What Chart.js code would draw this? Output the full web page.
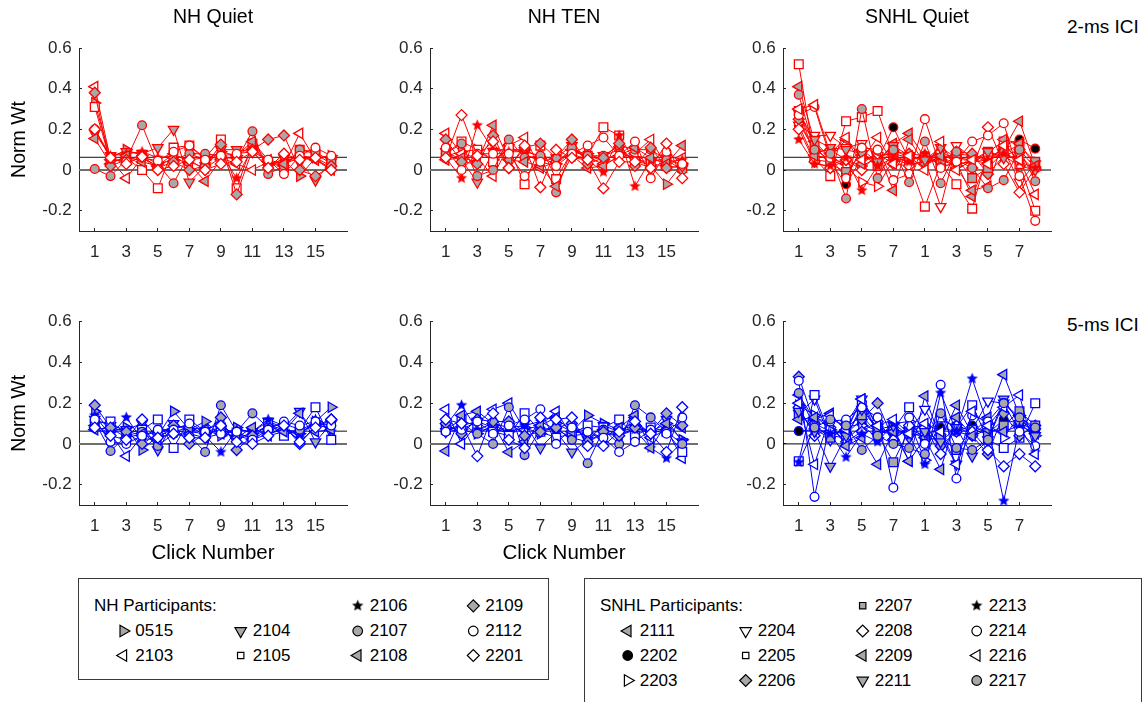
<!DOCTYPE html>
<html>
<head>
<meta charset="utf-8">
<script src="https://cdn.jsdelivr.net/npm/chart.js@4/dist/chart.umd.min.js"></script>
<style>
  body { margin: 0; background: #fff; width: 1145px; height: 702px; position: relative; overflow: hidden;
         font-family: "Liberation Sans", Arial, sans-serif; }
  canvas.panel { position: absolute; }
  .rowlab { position: absolute; font-size: 19px; color: #000; white-space: nowrap; }
  .legbox { position: absolute; border: 1px solid #3a3a3a; background: #fff; box-sizing: border-box; }
  .leg { position: absolute; font-size: 17px; line-height: 20px; color: #000; white-space: nowrap; }
  #legmarks { position: absolute; left: 0; top: 0; pointer-events: none; }
</style>
</head>
<body>
<canvas class="panel" id="p1" width="357" height="275" style="left:0px;top:0px"></canvas>
<canvas class="panel" id="p2" width="357" height="275" style="left:351px;top:0px"></canvas>
<canvas class="panel" id="p3" width="357" height="275" style="left:704px;top:0px"></canvas>
<canvas class="panel" id="p4" width="357" height="300" style="left:0px;top:280px"></canvas>
<canvas class="panel" id="p5" width="357" height="300" style="left:351px;top:280px"></canvas>
<canvas class="panel" id="p6" width="357" height="300" style="left:704px;top:280px"></canvas>
<div class="rowlab" style="left:1067px;top:16px">2-ms ICI</div>
<div class="rowlab" style="left:1067px;top:314px">5-ms ICI</div>
<div class="legbox" style="left:78px;top:578px;width:471px;height:102px"></div>
<div class="legbox" style="left:584px;top:578px;width:558px;height:140px"></div>
<div id="legtext"></div>
<canvas id="legmarks" width="1145" height="702"></canvas>

<script>
// click positions and axis ticks
const clicks = [1, 2, 3, 4, 5, 6, 7, 8, 9, 10, 11, 12, 13, 14, 15, 16];
const xTicks = [1, 3, 5, 7, 9, 11, 13, 15];
const yTicks = [-0.2, 0, 0.2, 0.4, 0.6];
const refLevels = [0, 0.0625];

// NH participants: id, marker shape, marker fill
const nhIds = ['0515', '2103', '2104', '2105', '2106', '2107', '2108', '2109', '2112', '2201'];
const nhShapes = ['triR', 'triL', 'triD', 'sq', 'star', 'circ', 'triL', 'diam', 'circ', 'diam'];
const nhFills = ['gray', 'open', 'gray', 'open', 'edge', 'gray', 'gray', 'gray', 'open', 'open'];

// SNHL participants
const snhlIds = ['2111', '2202', '2203', '2204', '2205', '2206', '2207', '2208', '2209', '2211', '2213', '2214', '2216', '2217'];
const snhlShapes = ['triL', 'circ', 'triR', 'triD', 'sq', 'diam', 'sq', 'diam', 'triL', 'triD', 'star', 'circ', 'triL', 'circ'];
const snhlFills = ['gray', 'black', 'open', 'open', 'open', 'gray', 'gray', 'open', 'gray', 'gray', 'edge', 'open', 'open', 'gray'];

// normalized weights, one row per participant (same order as ids)
const nhQuiet2ms = [
  [0.33, 0.06, 0.10, 0.07, 0.03, 0.05, 0.08, 0.05, 0.09, 0.07, 0.12, 0.03, 0.05, -0.03, 0.06, 0.07],
  [0.41, 0.05, -0.04, 0.06, 0.02, 0.08, 0.04, 0.01, 0.06, 0.03, 0.00, 0.04, 0.02, 0.18, 0.05, 0.01],
  [0.18, 0.07, 0.09, 0.08, 0.11, 0.20, -0.06, 0.02, 0.10, 0.10, 0.09, 0.01, 0.06, 0.04, -0.05, 0.04],
  [0.31, 0.04, 0.06, 0.00, -0.09, 0.11, 0.12, 0.06, 0.15, -0.09, 0.13, 0.04, 0.01, 0.10, 0.08, 0.03],
  [0.20, 0.07, 0.08, 0.09, 0.06, 0.07, 0.05, 0.06, 0.08, -0.04, 0.11, 0.03, 0.04, 0.07, 0.06, 0.02],
  [0.005, -0.03, 0.05, 0.22, 0.03, -0.065, 0.08, 0.08, 0.07, 0.05, 0.19, -0.02, 0.02, 0.10, 0.09, 0.04],
  [0.155, 0.03, 0.07, 0.04, 0.02, 0.06, 0.03, -0.055, 0.05, 0.07, 0.14, 0.05, 0.03, 0.06, 0.05, 0.00],
  [0.38, 0.02, 0.05, 0.07, 0.01, 0.04, 0.00, 0.02, 0.125, -0.12, 0.10, 0.15, 0.17, 0.00, -0.03, 0.02],
  [0.20, 0.055, 0.04, 0.06, 0.045, 0.09, 0.12, 0.05, 0.07, 0.08, 0.09, 0.05, -0.02, 0.07, 0.11, 0.07],
  [0.20, 0.06, 0.03, 0.065, 0.00, 0.02, 0.05, 0.00, 0.03, 0.04, 0.09, 0.01, 0.08, 0.05, 0.06, 0.00]
];
const nhTen2ms = [
  [0.07, 0.09, 0.10, 0.05, 0.10, 0.10, 0.06, 0.03, 0.09, 0.08, 0.05, 0.08, 0.06, 0.02, -0.07, 0.03],
  [0.18, 0.08, 0.06, -0.03, 0.12, 0.16, 0.01, 0.04, 0.10, 0.06, 0.03, 0.06, 0.08, 0.15, 0.02, 0.06],
  [0.09, 0.05, -0.06, 0.09, 0.11, 0.08, 0.04, 0.06, 0.12, 0.04, 0.07, 0.10, 0.05, 0.04, 0.06, 0.02],
  [0.08, 0.14, 0.10, 0.04, 0.11, -0.07, 0.12, -0.045, 0.09, 0.07, 0.21, 0.17, 0.04, 0.03, 0.02, 0.01],
  [0.06, -0.04, 0.22, 0.10, 0.09, 0.09, 0.07, 0.05, 0.08, 0.05, -0.01, 0.17, -0.08, 0.05, 0.04, 0.05],
  [0.08, 0.13, -0.03, 0.00, 0.15, 0.06, 0.07, -0.11, 0.11, 0.07, 0.07, 0.12, 0.10, 0.10, 0.05, 0.00],
  [0.05, 0.06, 0.04, 0.22, 0.05, 0.04, 0.02, -0.08, 0.07, 0.01, 0.02, 0.07, 0.11, 0.06, 0.03, 0.12],
  [0.15, 0.04, 0.03, 0.17, 0.01, 0.11, 0.13, 0.06, 0.15, 0.03, 0.06, 0.13, 0.02, 0.11, 0.01, 0.02],
  [0.11, 0.00, 0.08, 0.08, 0.08, -0.03, 0.04, 0.02, 0.08, 0.12, 0.16, 0.07, 0.14, -0.04, 0.09, 0.03],
  [0.06, 0.27, 0.07, 0.14, 0.01, 0.12, -0.085, 0.10, 0.06, 0.05, -0.09, 0.04, 0.04, 0.01, 0.13, -0.04]
];
const snhlQuiet2ms = [
  [0.41, 0.14, 0.06, 0.03, 0.10, 0.04, 0.13, 0.18, 0.06, 0.08, 0.04, -0.13, 0.06, 0.10, 0.24, 0.02],
  [0.22, 0.05, 0.04, -0.07, 0.06, 0.05, 0.21, 0.05, 0.07, 0.06, 0.08, 0.07, 0.04, 0.12, 0.15, 0.105],
  [0.23, 0.10, 0.05, 0.02, -0.06, -0.08, 0.05, 0.03, 0.04, 0.05, 0.02, 0.05, 0.08, 0.07, 0.02, 0.00],
  [0.22, 0.17, 0.17, 0.11, 0.13, 0.07, 0.08, 0.06, 0.05, -0.18, 0.12, 0.06, 0.06, 0.10, -0.06, 0.03],
  [0.52, 0.06, -0.03, 0.24, 0.26, 0.29, 0.07, 0.04, -0.18, 0.03, -0.07, -0.19, 0.09, 0.14, 0.03, -0.20],
  [0.25, 0.09, 0.10, 0.05, 0.02, 0.06, 0.09, 0.08, 0.07, 0.04, 0.09, 0.08, -0.02, 0.07, 0.10, 0.01],
  [0.29, 0.12, 0.03, -0.01, 0.08, 0.02, 0.10, 0.06, 0.06, 0.03, 0.06, -0.04, 0.01, 0.09, 0.12, 0.04],
  [0.20, 0.04, 0.01, 0.05, 0.00, 0.08, 0.03, 0.02, 0.05, 0.09, 0.05, 0.01, 0.21, 0.03, -0.11, 0.01],
  [0.30, 0.07, 0.06, 0.15, 0.03, 0.09, -0.10, 0.15, 0.03, 0.07, 0.01, -0.10, -0.08, 0.15, 0.13, 0.02],
  [0.28, 0.15, 0.11, 0.10, 0.08, 0.04, 0.12, 0.07, 0.05, 0.11, 0.06, 0.05, 0.09, 0.06, 0.07, 0.00],
  [0.15, 0.03, 0.02, 0.06, -0.10, 0.02, 0.06, 0.04, 0.08, 0.02, 0.03, 0.04, 0.05, 0.08, 0.04, 0.01],
  [0.27, 0.31, 0.06, -0.04, 0.11, 0.10, -0.05, -0.02, 0.25, 0.01, 0.04, 0.14, 0.17, 0.23, -0.03, -0.25],
  [0.30, 0.32, 0.08, 0.16, 0.05, 0.16, 0.03, 0.07, 0.00, 0.14, 0.00, 0.05, 0.03, 0.12, 0.05, -0.12],
  [0.37, 0.10, 0.08, -0.14, 0.30, -0.04, 0.10, -0.06, 0.14, -0.065, 0.09, 0.01, -0.09, -0.05, 0.10, -0.055]
];
const nhQuiet5ms = [
  [0.16, 0.06, 0.08, -0.03, 0.04, 0.16, 0.07, 0.11, 0.04, 0.08, 0.05, 0.09, 0.06, 0.05, 0.11, 0.18],
  [0.09, 0.05, -0.06, 0.04, 0.06, 0.07, 0.05, 0.03, 0.05, 0.04, 0.02, 0.05, 0.07, 0.06, 0.09, 0.08],
  [0.12, 0.09, 0.07, 0.10, -0.03, 0.10, 0.06, 0.05, 0.07, 0.02, 0.06, 0.11, 0.08, 0.16, 0.01, 0.10],
  [0.10, 0.11, 0.05, 0.07, 0.12, -0.02, 0.12, 0.06, 0.08, 0.05, 0.03, 0.10, 0.04, 0.07, 0.18, 0.02],
  [0.14, 0.04, 0.13, 0.02, 0.03, 0.08, 0.09, 0.04, -0.04, 0.07, 0.06, 0.12, 0.09, 0.03, 0.12, 0.06],
  [0.11, -0.035, 0.04, 0.06, -0.01, 0.05, 0.04, -0.04, 0.19, 0.06, 0.15, 0.08, 0.10, 0.07, 0.10, 0.09],
  [0.07, 0.08, 0.03, 0.05, 0.02, 0.06, 0.08, 0.07, 0.10, 0.03, 0.08, 0.04, 0.06, 0.15, 0.06, 0.07],
  [0.19, 0.08, 0.06, 0.00, 0.05, 0.09, 0.00, 0.05, 0.13, -0.03, 0.04, 0.07, 0.09, 0.00, 0.09, 0.12],
  [0.12, 0.01, 0.00, 0.04, 0.07, 0.07, 0.10, 0.06, 0.05, 0.06, 0.02, 0.07, 0.11, 0.09, 0.11, 0.09],
  [0.08, 0.04, 0.02, 0.12, 0.03, 0.05, 0.03, 0.03, 0.09, 0.01, 0.00, 0.04, 0.09, 0.01, 0.08, 0.12]
];
const nhTen5ms = [
  [0.08, 0.07, 0.05, 0.09, 0.06, 0.08, 0.05, 0.10, 0.06, 0.14, 0.10, 0.07, 0.09, 0.06, 0.10, 0.02],
  [0.17, 0.00, 0.10, 0.17, 0.20, 0.07, 0.09, 0.16, 0.04, 0.05, 0.07, 0.05, 0.13, 0.03, 0.07, -0.07],
  [0.06, 0.09, 0.11, 0.08, 0.05, 0.10, -0.02, 0.06, -0.04, 0.02, 0.09, 0.06, 0.08, 0.05, 0.12, 0.01],
  [0.07, 0.12, 0.08, 0.06, 0.04, 0.15, 0.06, 0.03, 0.05, 0.09, 0.08, 0.12, 0.04, 0.08, 0.06, -0.04],
  [0.09, 0.19, 0.07, 0.10, 0.08, 0.09, 0.11, 0.07, 0.03, 0.01, 0.05, 0.04, 0.07, -0.02, -0.07, 0.01],
  [0.06, 0.10, 0.05, 0.00, 0.18, -0.055, 0.07, 0.08, 0.02, -0.095, 0.07, 0.00, 0.19, 0.13, 0.06, 0.00],
  [-0.035, 0.14, 0.16, 0.10, -0.04, 0.01, 0.09, 0.13, 0.06, 0.05, 0.03, 0.08, 0.14, -0.02, 0.10, 0.08],
  [0.10, 0.05, 0.12, 0.11, 0.11, 0.04, 0.06, 0.08, 0.10, 0.01, 0.06, 0.04, 0.08, 0.06, 0.15, 0.09],
  [0.06, 0.07, 0.11, 0.05, 0.09, 0.12, 0.17, 0.00, 0.08, 0.06, 0.03, -0.04, 0.01, 0.07, 0.05, 0.13],
  [0.12, 0.10, -0.06, 0.15, 0.02, -0.02, 0.13, 0.12, 0.13, -0.01, -0.01, 0.06, 0.11, 0.05, -0.04, 0.18]
];
const snhlQuiet5ms = [
  [0.24, 0.12, 0.15, 0.06, 0.22, 0.05, 0.08, -0.085, 0.235, 0.02, 0.19, 0.05, 0.13, 0.34, 0.14, 0.06],
  [0.063, 0.07, 0.03, 0.08, 0.10, 0.06, 0.05, 0.07, 0.04, 0.08, 0.06, 0.09, 0.05, 0.12, 0.10, 0.07],
  [0.19, 0.14, 0.07, 0.02, 0.09, 0.03, 0.10, 0.11, -0.08, 0.12, 0.08, 0.05, 0.10, 0.03, 0.14, 0.04],
  [0.15, 0.22, 0.02, 0.10, 0.22, 0.08, 0.05, 0.06, 0.17, 0.03, -0.10, 0.07, 0.21, 0.20, 0.12, 0.06],
  [-0.085, 0.24, 0.04, 0.03, 0.19, 0.06, 0.07, 0.18, 0.05, 0.13, 0.08, 0.19, 0.02, -0.02, 0.03, 0.20],
  [0.33, 0.10, 0.06, 0.05, 0.12, 0.20, 0.02, 0.08, 0.09, -0.01, 0.06, 0.04, -0.05, 0.15, 0.04, 0.09],
  [0.14, 0.09, 0.03, 0.08, 0.14, 0.05, -0.09, 0.07, 0.02, 0.03, -0.03, 0.07, 0.05, 0.09, 0.16, 0.09],
  [0.18, 0.04, 0.08, 0.01, 0.06, 0.11, 0.02, 0.09, 0.08, -0.05, 0.09, 0.06, -0.03, -0.11, -0.05, -0.11],
  [0.12, 0.13, 0.10, -0.01, 0.03, -0.10, 0.06, -0.085, 0.03, -0.125, 0.13, 0.04, 0.07, 0.06, 0.09, 0.05],
  [0.16, 0.06, -0.11, 0.04, 0.17, 0.07, 0.09, 0.03, 0.06, 0.01, 0.08, -0.06, 0.02, 0.22, 0.10, 0.04],
  [-0.09, 0.08, 0.05, -0.065, 0.05, 0.01, 0.10, 0.04, -0.10, 0.25, 0.06, 0.32, 0.09, -0.28, 0.08, -0.04],
  [0.31, -0.26, 0.11, 0.12, 0.18, 0.13, -0.215, 0.13, 0.00, 0.29, -0.17, 0.14, 0.11, 0.20, 0.06, -0.01],
  [0.20, -0.10, 0.14, 0.07, 0.22, 0.09, 0.12, 0.05, 0.10, 0.06, -0.10, 0.16, 0.09, 0.18, 0.24, -0.05],
  [0.25, 0.08, 0.12, 0.09, -0.03, 0.04, 0.00, -0.02, -0.05, 0.15, -0.02, -0.03, 0.02, 0.20, 0.13, 0.08]
];

const RED = '#ff0000';
const BLUE = '#0000ff';
const GRAY = '#a8a8a8';
const AXIS = '#262626';

Chart.defaults.font.family = '"Liberation Sans", Arial, sans-serif';

// filled five-point star, used as an image point style
function starImage(color, size) {
  const c = document.createElement('canvas');
  c.width = c.height = size;
  const g = c.getContext('2d');
  const r = size / 2 - 0.5, ri = r * 0.45;
  g.beginPath();
  for (let i = 0; i < 10; i++) {
    const a = -Math.PI / 2 + i * Math.PI / 5;
    const rr = i % 2 ? ri : r;
    g.lineTo(size / 2 + rr * Math.cos(a), size / 2 + rr * Math.sin(a));
  }
  g.closePath();
  g.fillStyle = color;
  g.fill();
  return c;
}

function markerFor(shape, color, inLegend) {
  if (inLegend) {
    switch (shape) {
      case 'triR': return { style: 'triangle', rot: 90, r: 6.6 };
      case 'triL': return { style: 'triangle', rot: 270, r: 6.6 };
      case 'triD': return { style: 'triangle', rot: 180, r: 6.6 };
      case 'sq': return { style: 'rect', rot: 0, r: 4.5 };
      case 'diam': return { style: 'rectRot', rot: 0, r: 6 };
      case 'circ': return { style: 'circle', rot: 0, r: 4.8 };
      case 'star': return { style: starImage(color, 13), rot: 0, r: 6 };
    }
  }
  switch (shape) {
    case 'triR': return { style: 'triangle', rot: 90, r: 6 };
    case 'triL': return { style: 'triangle', rot: 270, r: 6 };
    case 'triD': return { style: 'triangle', rot: 180, r: 6 };
    case 'sq': return { style: 'rect', rot: 0, r: 6.2 };
    case 'diam': return { style: 'rectRot', rot: 0, r: 5.5 };
    case 'circ': return { style: 'circle', rot: 0, r: 4.4 };
    case 'star': return { style: starImage(color, 13), rot: 0, r: 6 };
  }
}

function fillFor(fill, color) {
  if (fill === 'gray') return GRAY;
  if (fill === 'black') return '#000000';
  if (fill === 'edge') return color;
  return '#ffffff';
}

function buildDatasets(rows, shapes, fills, color, zeroStyle, refEnd) {
  const n = rows.length;
  const sets = rows.map((vals, i) => {
    const m = markerFor(shapes[i], color, false);
    return {
      data: vals.map((v, j) => ({ x: clicks[j], y: v })),
      borderColor: color,
      borderWidth: 1,
      pointStyle: m.style,
      pointRotation: m.rot,
      pointRadius: m.r,
      pointBackgroundColor: fillFor(fills[i], color),
      pointBorderColor: color,
      pointBorderWidth: 1.3,
      tension: 0,
      clip: false,
      // later participants are drawn over earlier ones
      order: n - 1 - i
    };
  });
  // reference lines at zero and at 1/16, underneath everything
  refLevels.forEach((lv, i) => {
    sets.push({
      data: [{ x: 0, y: lv }, { x: i === 0 ? 17 : refEnd, y: lv }],
      borderColor: i === 0 ? zeroStyle.color : '#111111',
      borderWidth: i === 0 ? zeroStyle.width : 1,
      pointRadius: 0,
      order: 100
    });
  });
  return sets;
}

function makePanel(id, cfg) {
  const pad = cfg.bottomRow ? { top: 41.7, right: 10, bottom: 5, left: 0 } : { top: 0, right: 10, bottom: 4, left: 0 };
  new Chart(document.getElementById(id), {
    type: 'line',
    data: { datasets: cfg.datasets },
    options: {
      responsive: false,
      animation: false,
      events: [],
      layout: { padding: pad },
      plugins: {
        legend: { display: false },
        tooltip: { enabled: false },
        title: {
          display: !!cfg.title,
          text: cfg.title || '',
          fullSize: false,
          color: '#000',
          font: { size: 19.5, weight: 'normal' },
          padding: { top: 5.7, bottom: 18.9 }
        }
      },
      scales: {
        x: {
          type: 'linear',
          min: 0,
          max: 17,
          border: { color: AXIS, width: 1 },
          grid: { drawOnChartArea: false, drawTicks: true, tickLength: -3, color: AXIS },
          ticks: {
            color: AXIS,
            font: { size: 17 },
            padding: 13.8,
            maxRotation: 0,
            autoSkip: false,
            callback: v => cfg.snhl ? String((v - 1) % 8 + 1) : String(v)
          },
          title: {
            display: !!cfg.xTitle,
            text: cfg.xTitle || '',
            color: '#000',
            font: { size: 20.5 },
            padding: { top: 0, bottom: 9.7 }
          },
          afterBuildTicks: s => { s.ticks = xTicks.map(v => ({ value: v })); },
          afterFit: s => { s.height = cfg.bottomRow ? 70 : 40; }
        },
        y: {
          type: 'linear',
          min: -0.3,
          max: 0.6,
          border: { color: AXIS, width: 1 },
          grid: { drawOnChartArea: false, drawTicks: true, tickLength: -3, color: AXIS },
          ticks: {
            color: AXIS,
            font: { size: 17 },
            padding: 10.4,
            callback: v => (v === 0 ? '0' : v.toFixed(1))
          },
          title: {
            display: !!cfg.yTitle,
            text: cfg.yTitle || '',
            color: '#000',
            font: { size: 19.5 },
            padding: { top: 8.3, bottom: 0 }
          },
          afterBuildTicks: s => { s.ticks = yTicks.map(v => ({ value: v })); },
          afterFit: s => { s.width = 79; }
        }
      }
    }
  });
}

const nhZero = { color: '#6e6e6e', width: 2 };
const snhlZero = { color: '#000000', width: 1 };

makePanel('p1', { title: 'NH Quiet', yTitle: 'Norm Wt', datasets: buildDatasets(nhQuiet2ms, nhShapes, nhFills, RED, nhZero, 17) });
makePanel('p2', { title: 'NH TEN', datasets: buildDatasets(nhTen2ms, nhShapes, nhFills, RED, nhZero, 17) });
makePanel('p3', { title: 'SNHL Quiet', snhl: true, datasets: buildDatasets(snhlQuiet2ms, snhlShapes, snhlFills, RED, snhlZero, 16) });
makePanel('p4', { bottomRow: true, yTitle: 'Norm Wt', xTitle: 'Click Number', datasets: buildDatasets(nhQuiet5ms, nhShapes, nhFills, BLUE, nhZero, 17) });
makePanel('p5', { bottomRow: true, xTitle: 'Click Number', datasets: buildDatasets(nhTen5ms, nhShapes, nhFills, BLUE, nhZero, 17) });
makePanel('p6', { bottomRow: true, snhl: true, datasets: buildDatasets(snhlQuiet5ms, snhlShapes, snhlFills, BLUE, snhlZero, 16) });

// participant legends: [column, row, participant index]
const nhLegendCols = [123.3, 240.7, 357.7, 473.3];
const nhLegendRows = [605.8, 631, 655.5];
const nhLegendSlots = [[0, 1, 0], [0, 2, 1], [1, 1, 2], [1, 2, 3], [2, 0, 4], [2, 1, 5], [2, 2, 6], [3, 0, 7], [3, 1, 8], [3, 2, 9]];
const snhlLegendCols = [627.7, 745.7, 862.7, 976.7];
const snhlLegendRows = [605.7, 631, 655.5, 680.5];
const snhlLegendSlots = [[0, 1, 0], [0, 2, 1], [0, 3, 2], [1, 1, 3], [1, 2, 4], [1, 3, 5], [2, 0, 6], [2, 1, 7], [2, 2, 8], [2, 3, 9],
                         [3, 0, 10], [3, 1, 11], [3, 2, 12], [3, 3, 13]];

const legText = document.getElementById('legtext');
const lctx = document.getElementById('legmarks').getContext('2d');

function addText(str, x, y) {
  const d = document.createElement('div');
  d.className = 'leg';
  d.textContent = str;
  d.style.left = x + 'px';
  d.style.top = (y - 10) + 'px';
  legText.appendChild(d);
}

function drawLegend(header, headerX, cols, rows, slots, ids, shapes, fills) {
  addText(header, headerX, rows[0]);
  slots.forEach(([c, r, i]) => {
    const m = markerFor(shapes[i], '#000000', true);
    lctx.save();
    lctx.strokeStyle = '#000000';
    lctx.fillStyle = fillFor(fills[i], '#000000');
    lctx.lineWidth = 1.2;
    Chart.helpers.drawPoint(lctx, { pointStyle: m.style, rotation: m.rot, radius: m.r, borderWidth: 1.2 }, cols[c], rows[r]);
    lctx.restore();
    addText(ids[i], cols[c] + 12, rows[r]);
  });
}

drawLegend('NH Participants:', 94, nhLegendCols, nhLegendRows, nhLegendSlots, nhIds, nhShapes, nhFills);
drawLegend('SNHL Participants:', 600, snhlLegendCols, snhlLegendRows, snhlLegendSlots, snhlIds, snhlShapes, snhlFills);
</script>
</body>
</html>
